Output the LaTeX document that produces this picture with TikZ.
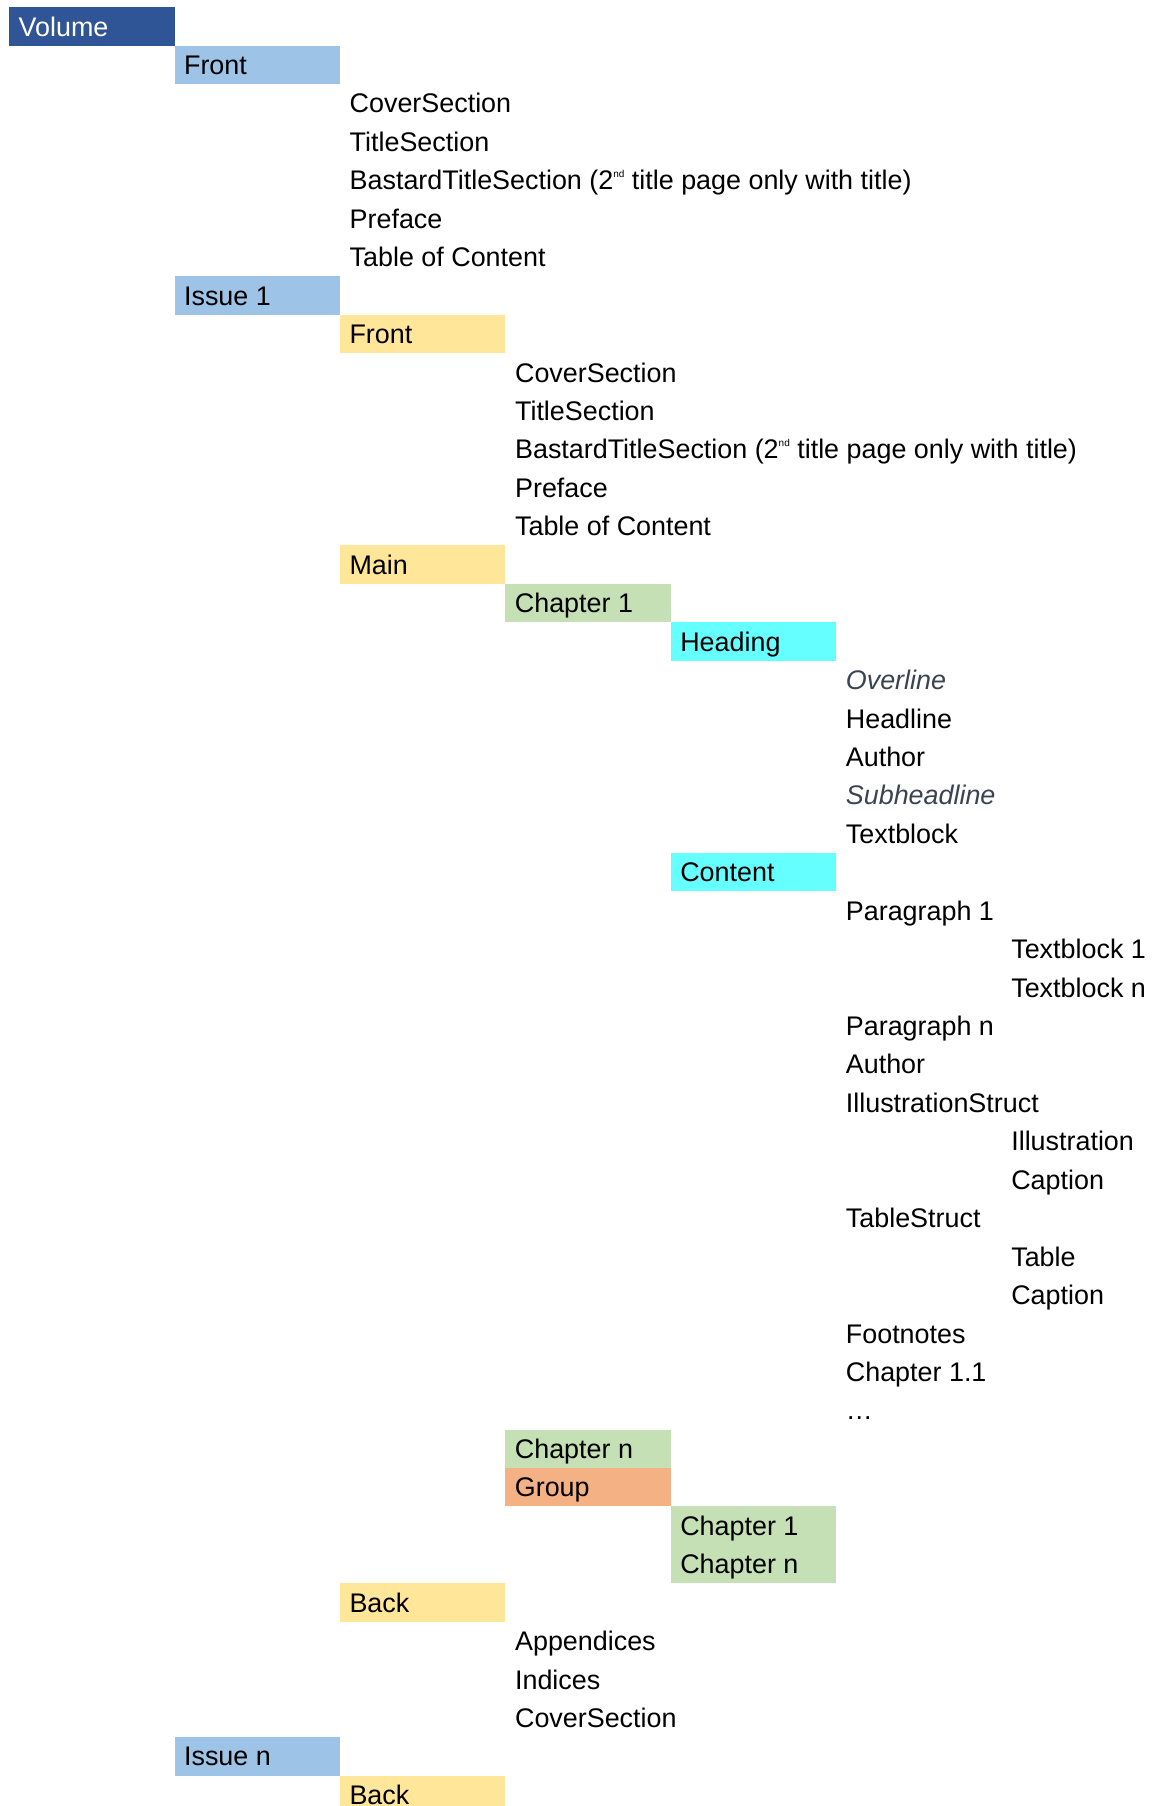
\documentclass[tikz,border=0pt]{standalone}
\usepackage{fontspec}
\setmainfont{Liberation Sans}
\definecolor{volblue}{HTML}{2F5597}
\definecolor{lblue}{HTML}{9DC3E6}
\definecolor{lyellow}{HTML}{FFE699}
\definecolor{lgreen}{HTML}{C5E0B4}
\definecolor{lcyan}{HTML}{66FFFF}
\definecolor{lsalmon}{HTML}{F4B183}
\definecolor{grayital}{HTML}{3B4350}
\newcommand{\mfnt}{\fontsize{26.9pt}{30pt}\selectfont}
\newcommand{\supnd}{\raisebox{12.8pt}{\fontsize{10pt}{10pt}\selectfont nd}}
% box: name, column, row, colour, text
\newcommand{\bx}[5]{\node (#1) [boxitem, fill=#4] at ({9.2+165.4*#2}, {-(7.3+38.44*#3)}) {\makebox[146.4pt][l]{#5}};}
% plain text: name, column, row, text
\newcommand{\tx}[4]{\node (#1) [textitem] at ({18.7+165.4*#2}, {-(7.3+38.44*#3+28.8)}) {#4};}
\tikzset{
  boxitem/.style={anchor=north west, inner xsep=9.5pt, inner ysep=0pt, outer sep=0pt,
    text height=28.8pt, text depth=9.64pt, font=\mfnt, draw=none},
  textitem/.style={anchor=base west, inner sep=0pt, font=\mfnt, text=black},
  italitem/.style={textitem, font=\mfnt\itshape, text=grayital}
}
\begin{document}
\begin{tikzpicture}[x=1pt,y=1pt]
\useasboundingbox (0,0) rectangle (1154,-1806);
\clip (0,0) rectangle (1154,-1806);
\fill[white] (0,0) rectangle (1154,-1806);
\bx{vol}{0}{0}{volblue}{\textcolor{white}{Volume}}
\bx{vfront}{1}{1}{lblue}{Front}
\tx{vf1}{2}{2}{CoverSection}
\tx{vf2}{2}{3}{TitleSection}
\tx{vf3}{2}{4}{BastardTitleSection (2\supnd{} title page only with title)}
\tx{vf4}{2}{5}{Preface}
\tx{vf5}{2}{6}{Table of Content}
\bx{iss1}{1}{7}{lblue}{Issue 1}
\bx{ifront}{2}{8}{lyellow}{Front}
\tx{if1}{3}{9}{CoverSection}
\tx{if2}{3}{10}{TitleSection}
\tx{if3}{3}{11}{BastardTitleSection (2\supnd{} title page only with title)}
\tx{if4}{3}{12}{Preface}
\tx{if5}{3}{13}{Table of Content}
\bx{imain}{2}{14}{lyellow}{Main}
\bx{chap1}{3}{15}{lgreen}{Chapter 1}
\bx{heading}{4}{16}{lcyan}{Heading}
\node (overline) [italitem] at ({18.7+165.4*5}, {-(7.3+38.44*17+28.8)}) {Overline};
\tx{headline}{5}{18}{Headline}
\tx{hauthor}{5}{19}{Author}
\node (subheadline) [italitem] at ({18.7+165.4*5}, {-(7.3+38.44*20+28.8)}) {Subheadline};
\tx{htextblock}{5}{21}{Textblock}
\bx{content}{4}{22}{lcyan}{Content}
\tx{para1}{5}{23}{Paragraph 1}
\tx{tb1}{6}{24}{Textblock 1}
\tx{tbn}{6}{25}{Textblock n}
\tx{paran}{5}{26}{Paragraph n}
\tx{cauthor}{5}{27}{Author}
\tx{illstruct}{5}{28}{IllustrationStruct}
\tx{illus}{6}{29}{Illustration}
\tx{icaption}{6}{30}{Caption}
\tx{tabstruct}{5}{31}{TableStruct}
\tx{table}{6}{32}{Table}
\tx{tcaption}{6}{33}{Caption}
\tx{footnotes}{5}{34}{Footnotes}
\tx{chap11}{5}{35}{Chapter 1.1}
\tx{dots}{5}{36}{…}
\bx{chapn}{3}{37}{lgreen}{Chapter n}
\bx{group}{3}{38}{lsalmon}{Group}
\bx{gchap1}{4}{39}{lgreen}{Chapter 1}
\bx{gchapn}{4}{40}{lgreen}{Chapter n}
\bx{iback}{2}{41}{lyellow}{Back}
\tx{ib1}{3}{42}{Appendices}
\tx{ib2}{3}{43}{Indices}
\tx{ib3}{3}{44}{CoverSection}
\bx{issn}{1}{45}{lblue}{Issue n}
\bx{nback}{2}{46}{lyellow}{Back}
\end{tikzpicture}
\end{document}
